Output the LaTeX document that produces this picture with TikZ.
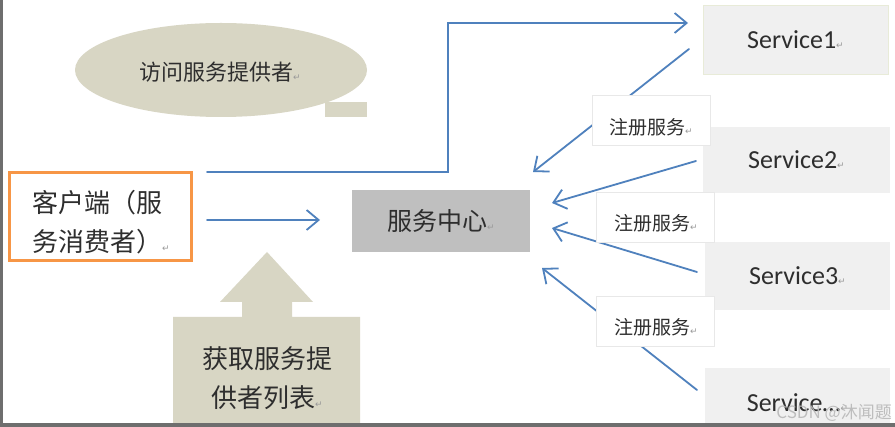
\documentclass[tikz,border=0pt]{standalone}
\usepackage{fontspec}
\setmainfont{Carlito}
\newfontfamily\cjk{Noto Sans CJK SC}
\newfontfamily\dvs{DejaVu Sans}
\usetikzlibrary{arrows.meta,shapes.geometric}
\definecolor{beige}{HTML}{D8D6C4}
\definecolor{midgray}{HTML}{BFBFBF}
\definecolor{svcgray}{HTML}{F0F0F0}
\definecolor{orng}{HTML}{F79646}
\definecolor{blu}{HTML}{4F81BD}
\definecolor{txt}{HTML}{2E2E2E}
\definecolor{framegray}{HTML}{6E6E6E}
\definecolor{svcedge}{HTML}{E8EBD8}
\definecolor{wmgray}{HTML}{B8B8B8}
\newcommand\retmark{{\dvs\fontsize{9}{9}\selectfont\color{gray!80}↵}}
\begin{document}
\begin{tikzpicture}[x=1pt,y=-1pt,
  arr/.style={blu, line width=1.8pt, line cap=round, -{Straight Barb[length=12pt,width=20pt,line width=1.8pt]}},
  svc/.style={fill=svcgray, inner sep=0pt, text=txt, font=\fontsize{26}{26}\selectfont},
  regbox/.style={fill=white, draw=gray!18, line width=0.8pt, minimum width=118pt, minimum height=50pt, inner sep=0pt},
  regtxt/.style={text=txt, font=\cjk\fontsize{19}{19}\selectfont, inner sep=0pt},
  cjktxt/.style={text=txt, inner sep=0pt}
]
\useasboundingbox (0,0) rectangle (895,427);
\fill[white] (0,0) rectangle (895,427);

% speech bubble
\fill[beige] (325,102) rectangle (367,117);
\node[ellipse, fill=beige, minimum width=292pt, minimum height=94pt, inner sep=0pt] (bubble) at (221,70) {};
\node[cjktxt, font=\cjk\fontsize{22}{22}\selectfont] (bubbletxt) at (220,72) {访问服务提供者\retmark};

% block arrow
\fill[beige] (173,317) -- (242,317) -- (242,302) -- (220,302) -- (267,252) -- (313,302) -- (292,302) -- (292,317) -- (360,317) -- (360,440) -- (173,440) -- cycle;
\node[cjktxt, font=\cjk\fontsize{26}{39}\selectfont, align=center] (listtxt) at (267,378) {获取服务提\\ 供者列表\retmark};

% client
\node[draw=orng, line width=3pt, minimum width=182pt, minimum height=88pt, inner sep=0pt] (client) at (100.5,217) {};
\node[cjktxt, font=\cjk\fontsize{26}{39}\selectfont, align=left, anchor=west] (clienttxt) at (32,222) {客户端（服\\务消费者）\retmark};

% service center
\node[fill=midgray, minimum width=178pt, minimum height=62pt, inner sep=0pt, text=txt, font=\cjk\fontsize{25}{25}\selectfont] (center) at (441,221) {服务中心\retmark};

% services
\node[svc, draw=svcedge, line width=1pt, minimum width=185pt, minimum height=69pt] (s1) at (795.5,40) {Service1\retmark};
\node[svc, minimum width=187pt, minimum height=66pt] (s2) at (796.5,160) {Service2\retmark};
\node[svc, minimum width=185pt, minimum height=68pt] (s3) at (797.5,276) {Service3\retmark};
\node[svc, minimum width=185pt, minimum height=70pt] (s4) at (797.5,403) {Service…\retmark};

% connector end points
\coordinate (c1a) at (207,172);
\coordinate (c1b) at (448,172);
\coordinate (c1c) at (448,23);
\coordinate (c1d) at (688,23);
\coordinate (c2a) at (207,220);
\coordinate (c2b) at (320,220);
\coordinate (r1a) at (689,49);
\coordinate (r1b) at (533,172);
\coordinate (r2a) at (696,161);
\coordinate (r2b) at (552,203);
\coordinate (r3a) at (697,272);
\coordinate (r3b) at (552,228);
\coordinate (r4a) at (697,390);
\coordinate (r4b) at (542,268);

\draw[arr] (c1a) -- (c1b) -- (c1c) -- (c1d);
\draw[arr] (c2a) -- (c2b);
\draw[arr] (r1a) -- (r1b);
\draw[arr] (r2a) -- (r2b);
\draw[arr] (r3a) -- (r3b);
\draw[arr] (r4a) -- (r4b);

% registration labels
\node[regbox] (reg1) at (651,120.5) {};
\node[regtxt] (reg1t) at (651,127) {注册服务\retmark};
\node[regbox] (reg2) at (655,217.5) {};
\node[regtxt] (reg2t) at (656,223) {注册服务\retmark};
\node[regbox] (reg3) at (655,321) {};
\node[regtxt] (reg3t) at (656,327) {注册服务\retmark};

% watermark
\node[text=wmgray, opacity=0.9, font=\cjk\fontsize{17}{17}\selectfont, inner sep=0pt, anchor=east] (wm) at (892,413) {CSDN @沐闻题};

% frame
\fill[framegray] (0,0) rectangle (3,427);
\fill[framegray] (0,423) rectangle (895,427);
\end{tikzpicture}
\end{document}
